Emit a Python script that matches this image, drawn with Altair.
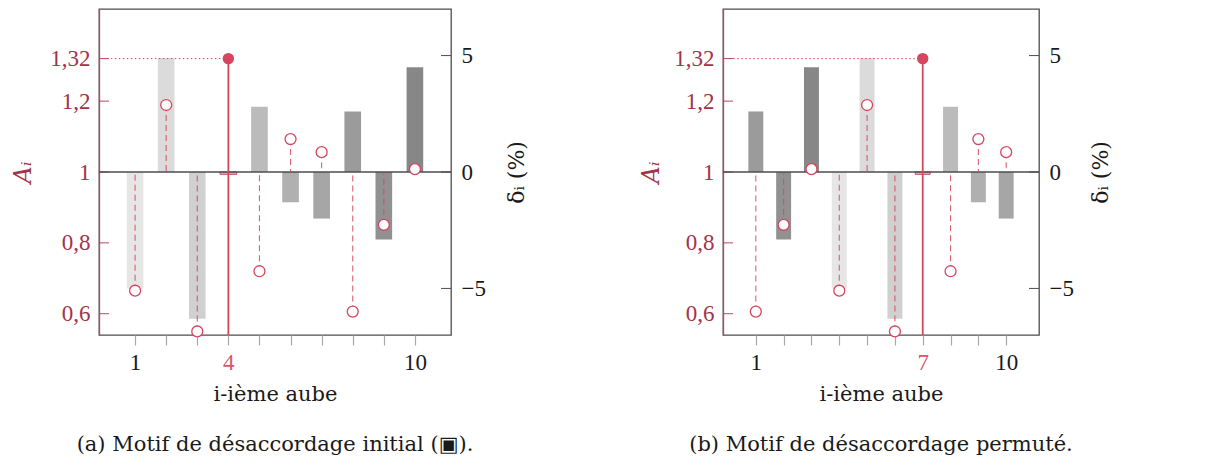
import altair as alt
import pandas as pd

# ---------------- data ----------------
blades = list(range(1, 11))
delta_init = [-5.0, 4.9, -6.3, -0.1, 2.8, -1.3, -2.0, 2.6, -2.9, 4.5]   # δ_i (%) initial pattern
amp_init = [0.665, 1.189, 0.55, 1.32, 0.72, 1.093, 1.056, 0.606, 0.851, 1.008]  # A_i initial pattern
order_a = [1, 2, 3, 4, 5, 6, 7, 8, 9, 10]      # initial pattern
order_b = [8, 9, 10, 1, 2, 3, 4, 5, 6, 7]      # permuted pattern (initial blade index at each position)
shown_a = [1, 4, 10]
shown_b = [1, 7, 10]
left_ticks = [0.6, 0.8, 1, 1.2, 1.32]
right_ticks = [-5, 0, 5]
caption_a = "(a) Motif de désaccordage initial (▣)."
caption_b = "(b) Motif de désaccordage permuté."

A_DOMAIN = [0.54, 1.46]
D_DOMAIN = [-7, 7]
X_DOMAIN = [0, 11]

FONT_NUM = "Liberation Serif"
FONT_TXT = "DejaVu Serif"
RED = "#d6465e"
RED_LABEL = "#d9566e"
DARK_RED = "#a3334a"
AXIS_RED = "#b24a5f"
GRAY = "#4d4d4d"
TEXT = "#1a1a1a"
H = 326


def panel(order, shown, width, caption, a_title_pad, d_title_pad):
    df = pd.DataFrame({
        "pos": blades,
        "init": order,
        "delta": [delta_init[k - 1] for k in order],
        "A": [amp_init[k - 1] for k in order],
    })
    hl = int(df.loc[df["A"].idxmax(), "pos"])
    df_rest = df[df["pos"] != hl]
    df_hl = df[df["pos"] == hl]

    test_shown = " || ".join(f"datum.value == {v}" for v in shown)
    x_axis = alt.Axis(
        values=blades, labelExpr=f"({test_shown}) ? datum.label : ''",
        labelColor={"condition": {"test": f"datum.value == {hl}", "value": RED_LABEL}, "value": TEXT},
        domain=False, ticks=True, tickColor="#a8a8a8", tickWidth=1.2, tickSize=10,
        labelPadding=6, labelFontSize=23, labelFont=FONT_NUM,
        title="i-ième aube", titleFont=FONT_TXT, titleFontSize=21,
        titleFontWeight="normal", titleColor=TEXT, titlePadding=9, grid=False,
    )
    x_scale = alt.Scale(domain=X_DOMAIN, nice=False, zero=False)

    def X(field):
        return alt.X(field, type="quantitative", scale=x_scale, axis=x_axis)

    d_scale = alt.Scale(domain=D_DOMAIN, nice=False, zero=False)
    d_axis = alt.Axis(
        orient="right", values=right_ticks, ticks=False, domain=False, grid=False,
        labelPadding=10, labelFontSize=23, labelColor=TEXT, labelFont=FONT_NUM,
        title="δᵢ (%)", titleFont=FONT_TXT, titleFontSize=22, titleFontWeight="normal", titleColor=TEXT,
        titleAngle=270, titlePadding=d_title_pad,
    )

    a_scale = alt.Scale(domain=A_DOMAIN, nice=False, zero=False)
    a_axis = alt.Axis(
        orient="left", values=left_ticks, ticks=False, domain=True, domainColor=AXIS_RED,
        domainWidth=1.3, grid=False, labelPadding=9, labelFontSize=23, labelColor=DARK_RED,
        labelFont=FONT_NUM, labelExpr="replace(toString(datum.value), '.', ',')",
        title="Aᵢ", titleFont=FONT_TXT, titleFontSize=24, titleFontStyle="italic", titleFontWeight="normal",
        titleColor=DARK_RED, titlePadding=a_title_pad,
    )

    def YD(field, axis=True):
        return alt.Y(field, type="quantitative", scale=d_scale, axis=d_axis if axis else None)

    def YA(field, axis=False):
        return alt.Y(field, type="quantitative", scale=a_scale, axis=a_axis if axis else None)

    bars = alt.Chart(df).mark_bar(size=0.52 * width / 11, strokeWidth=1).encode(
        x=X("pos"),
        y=YD("delta", True),
        y2=alt.datum(0),
        color=alt.Color("init:Q", scale=alt.Scale(domain=[1, 10], range=["#e6e6e6", "#878787"]), legend=None),
        stroke=alt.condition(f"datum.pos == {hl}", alt.value(RED), alt.value("transparent")),
    )
    rticks = alt.Chart(pd.DataFrame({"v": right_ticks})).mark_rule(color=GRAY, strokeWidth=1).encode(
        x=alt.value(width - 10), x2=alt.value(width), y=YD("v", False),
    )
    lticks = alt.Chart(pd.DataFrame({"v": left_ticks})).mark_rule(color=AXIS_RED, strokeWidth=1).encode(
        x=alt.value(0), x2=alt.value(10), y=YA("v", True),
    )
    zero = alt.Chart(pd.DataFrame({"v": [1.0]})).mark_rule(color=GRAY, strokeWidth=1.4).encode(
        x=alt.value(0), x2=alt.value(width), y=YA("v"),
    )
    dashed = alt.Chart(df_rest).mark_rule(color=RED, strokeWidth=1.1, strokeDash=[6, 4], opacity=0.85).encode(
        x=X("pos"), y=YA("A"), y2=alt.datum(1),
    )
    circles = alt.Chart(df_rest).mark_point(shape="circle", size=120, filled=False, fill="white",
                                             fillOpacity=1, stroke=RED, strokeWidth=1.3, opacity=1).encode(
        x=X("pos"), y=YA("A"),
    )
    hl_line = alt.Chart(df_hl).mark_rule(color=RED, strokeWidth=1.8).encode(
        x=X("pos"), y=YA("A"), y2=alt.datum(A_DOMAIN[0]),
    )
    dotted = alt.Chart(df_hl).mark_rule(color=RED, strokeWidth=1, strokeDash=[1.5, 2.5]).encode(
        x=X("pos"), x2=alt.datum(X_DOMAIN[0]), y=YA("A"),
    )
    hl_pt = alt.Chart(df_hl).mark_point(shape="circle", size=130, filled=True, color=RED, opacity=1).encode(
        x=X("pos"), y=YA("A"),
    )

    return alt.layer(bars, rticks, lticks, zero, dashed, dotted, hl_line, circles, hl_pt).resolve_scale(
        y="independent"
    ).properties(
        width=width, height=H,
        title=alt.TitleParams(caption, orient="bottom", anchor="middle", fontSize=21, font=FONT_TXT,
                              fontWeight="normal", color=TEXT, offset=30),
    )


pa = panel(order_a, shown_a, 352, caption_a, 14, 43)
pb = panel(order_b, shown_b, 316, caption_b, 10, 39)

chart = alt.hconcat(pa, pb, spacing=272, bounds="flush").properties(
    padding={"left": 3, "top": 0, "right": 5, "bottom": 3},
    background="white",
).configure_view(stroke=GRAY, strokeWidth=1.3).configure_axis(grid=False)

chart.save("out.html", embed_options={"renderer": "svg", "actions": False})
